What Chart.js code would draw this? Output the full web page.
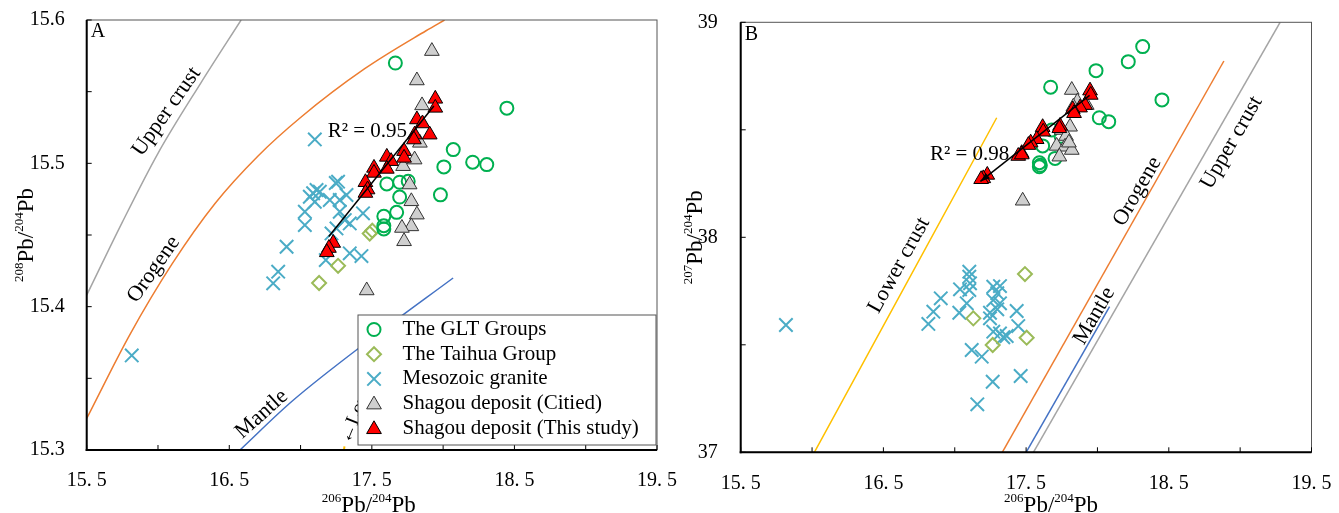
<!DOCTYPE html>
<html lang="en">
<head>
<meta charset="UTF-8">
<title>Pb isotope diagrams</title>
<script src="https://cdn.jsdelivr.net/npm/chart.js"></script>
<style>
  html, body { margin: 0; padding: 0; background: #fff; }
  .wrap { position: relative; width: 1339px; height: 513px; overflow: hidden; }
  #chartA { position: absolute; left: 0; top: 0; }
  #chartB { position: absolute; left: 680px; top: 0; }
</style>
</head>
<body>
<div class="wrap">
  <canvas id="chartA" width="700" height="513"></canvas>
  <canvas id="chartB" width="659" height="513"></canvas>
</div>
<script>
// tick labels
const xLabelValues = [15.5, 16.5, 17.5, 18.5, 19.5];
const xTickLabels = ['15. 5', '16. 5', '17. 5', '18. 5', '19. 5'];
const yLabelValuesA = [15.3, 15.4, 15.5, 15.6];
const yTickLabelsA = ['15.3', '15.4', '15.5', '15.6'];
const yLabelValuesB = [37, 38, 39];
const yTickLabelsB = ['37', '38', '39'];

const seriesNames = ['The GLT Groups', 'The Taihua Group', 'Mesozoic granite',
  'Shagou deposit (Citied)', 'Shagou deposit (This study)'];

// panel A : 206Pb/204Pb vs 207 (labelled 208)
const gltA = [[17.665,15.570],[18.447,15.5385],[18.071,15.5096],[18.207,15.5008],[18.306,15.4991],
  [18.005,15.4975],[17.981,15.478],[17.605,15.4856],[17.695,15.4868],[17.755,15.4875],
  [17.695,15.4765],[17.674,15.4658],[17.584,15.463],[17.584,15.4565],[17.584,15.4542]];
const taihuaA = [[17.485,15.451],[17.503,15.453],[17.263,15.4285],[17.130,15.4165]];
const graniteA = [[15.816,15.366],[17.100,15.5167],[17.263,15.4872],[17.247,15.4863],[17.112,15.4814],
  [17.088,15.4791],[17.065,15.4767],[17.135,15.4802],[17.100,15.4732],[17.205,15.4744],
  [17.030,15.4662],[17.030,15.4569],[17.275,15.4744],[17.322,15.4779],[17.275,15.4662],
  [17.345,15.4581],[17.310,15.4604],[17.438,15.4651],[17.252,15.4546],[17.217,15.4511],
  [16.902,15.4418],[16.843,15.4244],[16.808,15.4163],[17.345,15.4372],[17.427,15.4353],[17.177,15.4325]];
const citedA = [[17.921,15.5783],[17.816,15.5578],[17.852,15.5404],[17.837,15.5143],[17.80,15.5026],
  [17.719,15.498],[17.765,15.4852],[17.777,15.4735],[17.816,15.4642],[17.777,15.456],
  [17.711,15.4549],[17.726,15.4456],[17.464,15.4113]];
const studyA = [[17.945,15.545],[17.945,15.5387],[17.816,15.5306],[17.855,15.5278],[17.80,15.52],
  [17.906,15.52],[17.795,15.5166],[17.726,15.5085],[17.726,15.5038],[17.605,15.5045],
  [17.635,15.5015],[17.605,15.4961],[17.515,15.4968],[17.515,15.4933],[17.455,15.4868],
  [17.47,15.4817],[17.455,15.4793],[17.229,15.4444],[17.199,15.4409],[17.184,15.4379]];
const trendA = [[17.198,15.449],[17.935,15.540]];
const upperCrustA = [[15.5,15.408],[15.75,15.459],[16.0,15.507],[16.3,15.556],[16.583,15.6]];
const orogeneA = [[15.5,15.322],[15.8,15.38],[16.1,15.43],[16.4,15.472],[16.7,15.505],
  [17.0,15.532],[17.45,15.566],[17.88,15.5925],[18.01,15.6]];
const mantleA = [[16.575,15.3],[16.94,15.334],[17.5,15.378],[18.07,15.42]];
const lowerCrustA = [[17.302,15.2985],[17.308,15.3025]];

// panel B : 206Pb/204Pb vs 208 (labelled 207)
const gltB = [[18.317,38.887],[18.216,38.817],[17.990,38.775],[17.672,38.698],[18.452,38.639],
  [18.013,38.556],[18.079,38.538],[17.679,38.499],[17.616,38.425],[17.703,38.367],
  [17.593,38.347],[17.593,38.328],[17.745,38.47],[17.60,38.335]];
const taihuaB = [[17.492,37.829],[17.130,37.623],[17.266,37.499],[17.504,37.533]];
const graniteB = [[15.817,37.592],[16.815,37.597],[16.850,37.654],[16.902,37.716],[17.102,37.840],
  [17.102,37.817],[17.107,37.786],[17.037,37.758],[17.102,37.755],[17.084,37.693],
  [17.032,37.649],[17.270,37.770],[17.317,37.773],[17.298,37.740],[17.270,37.708],
  [17.317,37.693],[17.247,37.649],[17.247,37.623],[17.298,37.665],[17.434,37.657],
  [17.445,37.587],[17.270,37.561],[17.317,37.553],[17.340,37.535],[17.364,37.541],
  [17.119,37.476],[17.189,37.445],[17.266,37.328],[17.462,37.355],[17.158,37.223]];
const citedB = [[17.820,38.685],[17.859,38.631],[17.925,38.615],[17.831,38.607],[17.808,38.514],
  [17.750,38.499],[17.780,38.471],[17.714,38.425],[17.773,38.421],[17.820,38.406],
  [17.733,38.375],[17.476,38.170],[17.80,38.44]];
const studyB = [[17.948,38.682],[17.953,38.662],[17.913,38.615],[17.878,38.603],[17.827,38.595],
  [17.836,38.577],[17.738,38.518],[17.733,38.507],[17.616,38.512],[17.620,38.491],
  [17.574,38.456],[17.532,38.440],[17.516,38.429],[17.469,38.391],[17.445,38.378],
  [17.47,38.385],[17.228,38.290],[17.200,38.274],[17.185,38.27]];
const trendB = [[17.18,38.26],[17.945,38.66]];
const lowerCrustB = [[16.016,37],[17.294,38.556]];
const orogeneB = [[17.333,37],[18.886,38.82]];
const mantleB = [[17.5,37],[18.085,37.677]];
const upperCrustB = [[17.551,37],[19.28,39]];

const FONT = "'Liberation Serif', 'Times New Roman', serif";
Chart.defaults.font.family = FONT;

const toXY = arr => arr.map(([x, y]) => ({ x, y }));
const labelFor = (v, vals, labels) => {
  const i = vals.findIndex(t => Math.abs(t - v) < 1e-6);
  return i < 0 ? '' : labels[i];
};

function pointSet(name, data, style, r, fill, stroke, bw, order) {
  return {
    label: name, data: toXY(data), showLine: false,
    pointStyle: style, pointRadius: r, pointBackgroundColor: fill,
    pointBorderColor: stroke, pointBorderWidth: bw, order: order
  };
}
function curve(data, color, width) {
  return {
    data: toXY(data), showLine: true, pointRadius: 0, borderColor: color,
    borderWidth: width || 1.5, fill: false, tension: 0.4,
    cubicInterpolationMode: 'monotone', clip: 0, order: 9
  };
}
function panelSets(glt, taihua, granite, cited, study, trend) {
  return [
    { data: toXY(trend), showLine: true, pointRadius: 0, borderColor: '#000', borderWidth: 1.5, order: 0, trend: true },
    pointSet(seriesNames[4], study, 'triangle', 8.5, '#FF0000', '#000', 1, 1),
    pointSet(seriesNames[3], cited, 'triangle', 8.5, '#CFCFCF', '#333', 1, 2),
    pointSet(seriesNames[0], glt, 'circle', 6.5, 'rgba(0,0,0,0)', '#00B050', 2, 3),
    pointSet(seriesNames[1], taihua, 'rectRot', 7, 'rgba(0,0,0,0)', '#9BBB59', 2, 4),
    pointSet(seriesNames[2], granite, 'crossRot', 9.5, '#4BACC6', '#4BACC6', 2, 5)
  ];
}

function seg(ctx, x1, y1, x2, y2) {
  ctx.beginPath(); ctx.moveTo(x1, y1); ctx.lineTo(x2, y2); ctx.stroke();
}
function marker(ctx, ds, x, y) {
  const r = ds.pointRadius;
  ctx.fillStyle = ds.pointBackgroundColor;
  ctx.strokeStyle = ds.pointBorderColor;
  ctx.lineWidth = ds.pointBorderWidth;
  ctx.beginPath();
  if (ds.pointStyle === 'circle') {
    ctx.arc(x, y, r, 0, Math.PI * 2);
  } else if (ds.pointStyle === 'rectRot') {
    ctx.moveTo(x - r, y); ctx.lineTo(x, y - r); ctx.lineTo(x + r, y); ctx.lineTo(x, y + r); ctx.closePath();
  } else if (ds.pointStyle === 'crossRot') {
    const o = r * Math.SQRT1_2;
    ctx.moveTo(x - o, y - o); ctx.lineTo(x + o, y + o); ctx.moveTo(x + o, y - o); ctx.lineTo(x - o, y + o);
    ctx.stroke(); return;
  } else {
    ctx.moveTo(x, y - r); ctx.lineTo(x + 0.866 * r, y + 0.5 * r); ctx.lineTo(x - 0.866 * r, y + 0.5 * r); ctx.closePath();
  }
  ctx.fill(); ctx.stroke();
}
function isoTitle(ctx, x, y, a, b, rotate) {
  const parts = [[a, true], ['Pb/', false], [b, true], ['Pb', false]];
  const big = '23px ' + FONT, small = '13px ' + FONT;
  let w = 0;
  parts.forEach(p => { ctx.font = p[1] ? small : big; w += ctx.measureText(p[0]).width; });
  ctx.save();
  ctx.translate(x, y);
  if (rotate) ctx.rotate(-Math.PI / 2);
  ctx.textAlign = 'left'; ctx.textBaseline = 'alphabetic'; ctx.fillStyle = '#000';
  let cx = -w / 2;
  parts.forEach(p => {
    ctx.font = p[1] ? small : big;
    ctx.fillText(p[0], cx, p[1] ? -10 : 0);
    cx += ctx.measureText(p[0]).width;
  });
  ctx.restore();
}

const extras = {
  id: 'extras',
  afterDatasetsDraw(chart, args, opts) {
    const { ctx, chartArea: a } = chart;
    const xs = chart.scales.x, ys = chart.scales.y;
    ctx.save();

    // arrow head on the regression line
    if (opts.arrow) {
      const pts = chart.data.datasets.find(d => d.trend).data;
      const x1 = xs.getPixelForValue(pts[0].x), y1 = ys.getPixelForValue(pts[0].y);
      const x2 = xs.getPixelForValue(pts[1].x), y2 = ys.getPixelForValue(pts[1].y);
      const ang = Math.atan2(y1 - y2, x1 - x2);
      ctx.fillStyle = '#000';
      ctx.beginPath();
      ctx.moveTo(x1, y1);
      ctx.lineTo(x1 - 10 * Math.cos(ang - 0.35), y1 - 10 * Math.sin(ang - 0.35));
      ctx.lineTo(x1 - 10 * Math.cos(ang + 0.35), y1 - 10 * Math.sin(ang + 0.35));
      ctx.closePath(); ctx.fill();
    }

    // curve labels and R2 text
    ctx.fillStyle = '#000';
    opts.texts.forEach(t => {
      ctx.save();
      ctx.translate(xs.getPixelForValue(t.x), ys.getPixelForValue(t.y));
      ctx.rotate((t.angle || 0) * Math.PI / 180);
      ctx.font = (t.size || 22) + 'px ' + FONT;
      ctx.textAlign = t.align || 'center';
      ctx.textBaseline = 'middle';
      ctx.fillText(t.text, 0, 0);
      ctx.restore();
    });

    // frame, axes and inward ticks
    ctx.strokeStyle = '#555'; ctx.lineWidth = 1;
    ctx.strokeRect(a.left, a.top, a.right - a.left, a.bottom - a.top);
    ctx.strokeStyle = '#000'; ctx.lineWidth = 2;
    seg(ctx, a.left, a.top, a.left, a.bottom + 1);
    seg(ctx, a.left - 1, a.bottom, a.right, a.bottom);
    ctx.lineWidth = 1;
    xs.ticks.forEach(t => { const p = xs.getPixelForValue(t.value); seg(ctx, p, a.bottom, p, a.bottom - 5); });
    ys.ticks.forEach(t => { const p = ys.getPixelForValue(t.value); seg(ctx, a.left, p, a.left + 5, p); });

    // panel letter
    ctx.font = '20px ' + FONT; ctx.textAlign = 'left'; ctx.textBaseline = 'top'; ctx.fillStyle = '#000';
    ctx.fillText(opts.letter, a.left + 4, a.top + 2);

    // legend
    if (opts.legend) {
      const w = 298, h = 130, L = a.right - w - 1, T = a.bottom - h - 5;
      ctx.fillStyle = '#fff'; ctx.fillRect(L, T, w, h);
      ctx.strokeStyle = '#555'; ctx.lineWidth = 1; ctx.strokeRect(L, T, w, h);
      const items = seriesNames.map(n => chart.data.datasets.find(d => d.label === n));
      items.forEach((ds, i) => {
        const yy = T + 14.5 + i * 24.7;
        marker(ctx, ds, L + 16, yy + (ds.pointStyle === 'triangle' ? 1 : 0));
        ctx.fillStyle = '#000'; ctx.font = '21px ' + FONT;
        ctx.textAlign = 'left'; ctx.textBaseline = 'middle';
        ctx.fillText(ds.label, L + 44.5, yy);
      });
    }

    // axis titles
    isoTitle(ctx, (a.left + a.right) / 2 + opts.xTitleShift, 512, '206', '204', false);
    isoTitle(ctx, opts.yTitleX, (a.top + a.bottom) / 2, opts.yIso, '204', true);
    ctx.restore();
  }
};

function makePanel(id, datasets, cfg) {
  return new Chart(document.getElementById(id), {
    type: 'scatter',
    data: { datasets: datasets },
    plugins: [extras],
    options: {
      responsive: false,
      animation: false,
      events: [],
      layout: { padding: { left: 0, right: cfg.padRight, top: cfg.padTop, bottom: 0 } },
      plugins: { legend: { display: false }, tooltip: { enabled: false }, extras: cfg.extras },
      scales: {
        x: {
          type: 'linear', min: 15.5, max: 19.5,
          grid: { display: false }, border: { display: false },
          ticks: {
            stepSize: 0.5, autoSkip: false, maxRotation: 0, padding: 11, color: '#000',
            font: { family: FONT, size: 20 },
            callback: v => labelFor(v, xLabelValues, xTickLabels)
          },
          afterFit: s => { s.height = cfg.xHeight; s.paddingLeft = 0; s.paddingRight = 0; }
        },
        y: {
          type: 'linear', min: cfg.yMin, max: cfg.yMax,
          grid: { display: false }, border: { display: false },
          ticks: {
            stepSize: cfg.yStep, autoSkip: false, padding: cfg.yPad, color: '#000',
            font: { family: FONT, size: 20 },
            callback: v => labelFor(v, cfg.yVals, cfg.yLabels)
          },
          afterFit: s => { s.width = cfg.yWidth; s.paddingTop = 0; s.paddingBottom = 0; }
        }
      }
    }
  });
}

makePanel('chartA', [
  ...panelSets(gltA, taihuaA, graniteA, citedA, studyA, trendA),
  curve(upperCrustA, '#A5A5A5'),
  curve(orogeneA, '#ED7D31'),
  curve(mantleA, '#4472C4'),
  curve(lowerCrustA, '#FFC000', 2)
], {
  padRight: 43, padTop: 20, xHeight: 63, yWidth: 86.7, yPad: 14,
  yMin: 15.3, yMax: 15.6, yStep: 0.05, yVals: yLabelValuesA, yLabels: yTickLabelsA,
  extras: {
    letter: 'A', legend: true, arrow: false, xTitleShift: -3, yTitleX: 33, yIso: '208',
    texts: [
      { text: 'Upper crust', x: 16.06, y: 15.536, angle: -55 },
      { text: 'Orogene', x: 15.97, y: 15.426, angle: -55 },
      { text: 'Mantle', x: 16.727, y: 15.325, angle: -42 },
      { text: '\u2190Lower crust', x: 17.31, y: 15.305, angle: -68, align: 'left', size: 20 },
      { text: 'R\u00B2 = 0.95', x: 17.19, y: 15.522, align: 'left', size: 21 }
    ]
  }
});

makePanel('chartB', [
  ...panelSets(gltB, taihuaB, graniteB, citedB, studyB, trendB),
  curve(lowerCrustB, '#FFC000'),
  curve(orogeneB, '#ED7D31'),
  curve(mantleB, '#4472C4'),
  curve(upperCrustB, '#A5A5A5')
], {
  padRight: 27.5, padTop: 22.3, xHeight: 60.7, yWidth: 60.7, yPad: 15,
  yMin: 37, yMax: 39, yStep: 0.5, yVals: yLabelValuesB, yLabels: yTickLabelsB,
  extras: {
    letter: 'B', legend: false, arrow: true, xTitleShift: 25, yTitleX: 22, yIso: '207',
    texts: [
      { text: 'Lower crust', x: 16.61, y: 37.87, angle: -61 },
      { text: 'Orogene', x: 18.28, y: 38.213, angle: -60 },
      { text: 'Upper crust', x: 18.94, y: 38.44, angle: -60 },
      { text: 'Mantle', x: 17.978, y: 37.635, angle: -60 },
      { text: 'R\u00B2 = 0.98', x: 16.826, y: 38.387, align: 'left', size: 21 }
    ]
  }
});
</script>
</body>
</html>
